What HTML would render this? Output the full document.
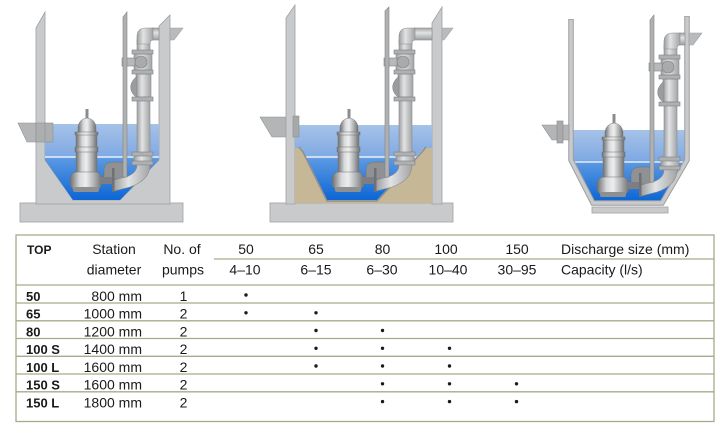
<!DOCTYPE html>
<html>
<head>
<meta charset="utf-8">
<style>
html,body{margin:0;padding:0;background:#fff;}
svg{display:block;}
text{font-family:"Liberation Sans",Arial,sans-serif;fill:#1a1a1a;}
.h{font-size:14px;}
.b{font-size:13px;font-weight:bold;}
</style>
</head>
<body>
<svg width="724" height="443" viewBox="0 0 724 443" xmlns="http://www.w3.org/2000/svg">
<defs>
  <linearGradient id="w" x1="0" y1="0" x2="0" y2="1">
    <stop offset="0" stop-color="#a6c2e8"/>
    <stop offset="0.42" stop-color="#80aae3"/>
    <stop offset="0.46" stop-color="#5a98e3"/>
    <stop offset="1" stop-color="#0c66d4"/>
  </linearGradient>
  <linearGradient id="m" x1="0" y1="0" x2="1" y2="0">
    <stop offset="0" stop-color="#6c6e70"/>
    <stop offset="0.3" stop-color="#d8d9da"/>
    <stop offset="0.5" stop-color="#eeeeee"/>
    <stop offset="0.78" stop-color="#a9abad"/>
    <stop offset="1" stop-color="#6e7072"/>
  </linearGradient>
  <linearGradient id="p" x1="0" y1="0" x2="1" y2="0">
    <stop offset="0" stop-color="#9c9ea0"/>
    <stop offset="0.4" stop-color="#e2e3e4"/>
    <stop offset="1" stop-color="#a2a4a6"/>
  </linearGradient>
  <linearGradient id="ph" x1="0" y1="0" x2="0" y2="1">
    <stop offset="0" stop-color="#a2a4a6"/>
    <stop offset="0.4" stop-color="#e2e3e4"/>
    <stop offset="1" stop-color="#9c9ea0"/>
  </linearGradient>
  <g id="asm">
    <!-- autocoupling hump -->
    <path d="M104,179 L104,169 Q105,162 113,162 L121,162 Q127,163 127,170 L127,179 Z" fill="#8f9194" stroke="#6f7173" stroke-width=".5"/>
    <!-- vertical discharge pipe -->
    <rect x="137" y="40" width="13" height="126" fill="url(#p)" stroke="#8a8c8e" stroke-width=".6"/>
    <path d="M137,44 L137,37 Q137,28 146,28 L153,28 L153,40 Q150,40 150,44 Z" fill="url(#p)" stroke="#8a8c8e" stroke-width=".6"/>
    <!-- gate valve -->
    <rect x="134" y="54" width="18" height="16" fill="url(#p)" stroke="#8a8c8e" stroke-width=".6"/>
    <circle cx="141" cy="62" r="6" fill="#a8aaac" stroke="#7f8183" stroke-width=".6"/>
    <rect x="122" y="58" width="13" height="8" fill="#b6b8ba" stroke="#7f8183" stroke-width=".6"/>
    <!-- check valve -->
    <rect x="136" y="74" width="15" height="23" fill="url(#p)" stroke="#8a8c8e" stroke-width=".6"/>
    <path d="M137,76 Q129,83 131,90 Q133,96 137,97 Z" fill="#9a9c9e" stroke="#7f8183" stroke-width=".5"/>
    <!-- lower fitting -->
    <rect x="134" y="155" width="18" height="7" fill="url(#p)" stroke="#8a8c8e" stroke-width=".6"/>
    <!-- flanges -->
    <rect x="132" y="50" width="21" height="4" fill="#aeb0b2" stroke="#7d7f82" stroke-width=".6"/>
    <rect x="132" y="70" width="21" height="4" fill="#aeb0b2" stroke="#7d7f82" stroke-width=".6"/>
    <rect x="132" y="97" width="21" height="4" fill="#aeb0b2" stroke="#7d7f82" stroke-width=".6"/>
    <rect x="132" y="152" width="21" height="4" fill="#aeb0b2" stroke="#7d7f82" stroke-width=".6"/>
    <rect x="132" y="161" width="21" height="4" fill="#aeb0b2" stroke="#7d7f82" stroke-width=".6"/>
    <!-- bend -->
    <path d="M137,165 L150,165 Q150,180 130,187 L114,191 L114,180 L126,177 Q137,173 137,165 Z" fill="url(#p)" stroke="#8a8c8e" stroke-width=".6"/>
    <!-- pump -->
    <rect x="85.5" y="109" width="3" height="12" fill="#8a8c8f"/>
    <path d="M78,134 L78,127 Q79,119 87,118 Q95,119 96,127 L96,134 Z" fill="url(#m)" stroke="#77797b" stroke-width=".5"/>
    <rect x="76" y="133" width="21" height="41" fill="url(#m)" stroke="#77797b" stroke-width=".5"/>
    <rect x="75" y="132" width="23" height="3" fill="url(#m)" stroke="#6f7173" stroke-width=".5"/>
    <rect x="75" y="147" width="23" height="5" fill="url(#m)" stroke="#6f7173" stroke-width=".5"/>
    <rect x="70" y="172" width="32" height="18" rx="7" fill="url(#m)" stroke="#6f7173" stroke-width=".5"/>
    <rect x="73" y="187" width="26" height="5" rx="2" fill="#8d8f91"/>
    <rect x="100" y="177" width="13" height="7" fill="#7c7e81"/>
    <rect x="112" y="168" width="2.5" height="24" fill="#6f7174"/>
  </g>
</defs>

<!-- ============ DIAGRAM 1 ============ -->
<rect x="20" y="203" width="163" height="19" fill="#c9cacc" stroke="#9fa0a3" stroke-width=".8"/>
<polygon points="18,123 36,123 36,142 27,142" fill="#b4b5b7" stroke="#8e8f91" stroke-width=".6"/>
<polygon points="36,28 45,12 45,160 73,200 120,200 159,160 159,26 170,15 170,204 36,204" fill="#c9cacc" stroke="#9fa0a3" stroke-width=".8"/>
<polygon points="45,124 159,124 159,160 120,200 73,200 45,160" fill="url(#w)"/>
<line x1="45" y1="157" x2="159" y2="157" stroke="#fff" stroke-width="1.2"/>
<rect x="36" y="123" width="17" height="19" fill="#adaeb0" stroke="#8e8f91" stroke-width=".6"/>
<line x1="45" y1="123" x2="45" y2="142" stroke="#8e8f91" stroke-width=".6"/>
<rect x="152" y="28" width="7" height="12" fill="url(#ph)" stroke="#8a8c8e" stroke-width=".6"/>
<polygon points="170,28 183,28 174,40 170,40" fill="#b9babc" stroke="#9fa0a3" stroke-width=".6"/>
<use href="#asm"/>
<polygon points="123,17 127,12 127,177 123,177" fill="#aeb0b2" stroke="#808284" stroke-width=".6"/>

<!-- ============ DIAGRAM 2 ============ -->
<rect x="270" y="203" width="183" height="19" fill="#c9cacc" stroke="#9fa0a3" stroke-width=".8"/>
<polygon points="260,117 286,117 286,137 272,137" fill="#b4b5b7" stroke="#8e8f91" stroke-width=".6"/>
<polygon points="286,18 295,5 295,204 286,204" fill="#c9cacc" stroke="#9fa0a3" stroke-width=".8"/>
<polygon points="432,23 442,7 442,204 432,204" fill="#c9cacc" stroke="#9fa0a3" stroke-width=".8"/>
<polygon points="295,148 301,148 327,200 377,200 424,148 432,148 432,203 295,203" fill="#c6b897"/>
<polygon points="295,125 432,125 432,148 424,148 377,200 327,200 301,148 295,148" fill="url(#w)"/>
<line x1="305" y1="157" x2="418" y2="157" stroke="#fff" stroke-width="1.2"/>
<polyline points="299,147 303,152 327,201 377,201 422,152 426,147" fill="none" stroke="#8e9092" stroke-width="1.6"/>
<rect x="293" y="116" width="6" height="21" fill="#a7a8aa" stroke="#8e8f91" stroke-width=".6"/>
<rect x="414" y="28" width="18" height="12" fill="url(#ph)" stroke="#8a8c8e" stroke-width=".6"/>
<polygon points="442,28 453,28 444,40 442,40" fill="#b9babc" stroke="#9fa0a3" stroke-width=".6"/>
<use href="#asm" transform="translate(262,0)"/>
<polygon points="385,11 389,7 389,177 385,177" fill="#aeb0b2" stroke="#808284" stroke-width=".6"/>

<!-- ============ DIAGRAM 3 ============ -->
<rect x="592" y="207" width="76" height="6" fill="#c9cacc" stroke="#9fa0a3" stroke-width=".8"/>
<polygon points="573,130 685,130 685,160 661,201 594,201 573,160" fill="url(#w)"/>
<line x1="574" y1="162" x2="684" y2="162" stroke="#fff" stroke-width="1.2"/>
<path d="M571,19 L571,160 L593,203 L662,203 L687,160 L687,16" fill="none" stroke="#9d9ea1" stroke-width="5.5" stroke-linejoin="miter"/>
<path d="M571,19.8 L571,160 L593,203 L662,203 L687,160 L687,16.8" fill="none" stroke="#c9cacc" stroke-width="3.5" stroke-linejoin="miter"/>
<polygon points="542,125 569,125 569,140 552,140" fill="#b4b5b7" stroke="#8e8f91" stroke-width=".6"/>
<rect x="557" y="121" width="6" height="22" fill="#a9aaac" stroke="#8a8b8d" stroke-width=".6"/>
<rect x="679" y="33" width="6" height="12" fill="url(#ph)" stroke="#8a8c8e" stroke-width=".6"/>
<polygon points="689,33 702,33 693,45 689,45" fill="#b9babc" stroke="#9fa0a3" stroke-width=".6"/>
<use href="#asm" transform="translate(527,5)"/>
<polygon points="650,20 654,15 654,182 650,182" fill="#aeb0b2" stroke="#808284" stroke-width=".6"/>

<!-- ============ TABLE ============ -->
<g stroke="#a9a98b" stroke-width="1.3" fill="none">
  <rect x="16" y="235" width="698" height="186.5"/>
  <line x1="214" y1="259" x2="714" y2="259"/>
  <line x1="16" y1="285" x2="714" y2="285"/>
  <line x1="16" y1="303" x2="714" y2="303"/>
  <line x1="16" y1="320.8" x2="714" y2="320.8"/>
  <line x1="16" y1="338.5" x2="714" y2="338.5"/>
  <line x1="16" y1="356.3" x2="714" y2="356.3"/>
  <line x1="16" y1="374" x2="714" y2="374"/>
  <line x1="16" y1="391.8" x2="714" y2="391.8"/>
</g>

<text x="27" y="254" style="font-size:12px;font-weight:bold">TOP</text>
<text class="h" x="114" y="254" text-anchor="middle">Station</text>
<text class="h" x="114" y="274.5" text-anchor="middle">diameter</text>
<text class="h" x="182" y="254" text-anchor="middle">No. of</text>
<text class="h" x="183" y="274.5" text-anchor="middle">pumps</text>
<text class="h" x="246" y="254" text-anchor="middle">50</text>
<text class="h" x="245" y="274.5" text-anchor="middle">4–10</text>
<text class="h" x="316" y="254" text-anchor="middle">65</text>
<text class="h" x="316" y="274.5" text-anchor="middle">6–15</text>
<text class="h" x="382.5" y="254" text-anchor="middle">80</text>
<text class="h" x="382" y="274.5" text-anchor="middle">6–30</text>
<text class="h" x="446" y="254" text-anchor="middle">100</text>
<text class="h" x="448" y="274.5" text-anchor="middle">10–40</text>
<text class="h" x="517" y="254" text-anchor="middle">150</text>
<text class="h" x="517" y="274.5" text-anchor="middle">30–95</text>
<text class="h" x="561" y="254">Discharge size (mm)</text>
<text class="h" x="561" y="274.5">Capacity (l/s)</text>

<text class="b" x="26" y="300.8">50</text>
<text class="b" x="26" y="318.5">65</text>
<text class="b" x="26" y="336.3">80</text>
<text class="b" x="26" y="354">100 S</text>
<text class="b" x="26" y="371.8">100 L</text>
<text class="b" x="26" y="389.5">150 S</text>
<text class="b" x="26" y="407.3">150 L</text>

<text class="h" x="142" y="300.8" text-anchor="end">800 mm</text>
<text class="h" x="142" y="318.5" text-anchor="end">1000 mm</text>
<text class="h" x="142" y="336.3" text-anchor="end">1200 mm</text>
<text class="h" x="142" y="354" text-anchor="end">1400 mm</text>
<text class="h" x="142" y="371.8" text-anchor="end">1600 mm</text>
<text class="h" x="142" y="389.5" text-anchor="end">1600 mm</text>
<text class="h" x="142" y="407.3" text-anchor="end">1800 mm</text>

<text class="h" x="183.5" y="300.8" text-anchor="middle">1</text>
<text class="h" x="183.5" y="318.5" text-anchor="middle">2</text>
<text class="h" x="183.5" y="336.3" text-anchor="middle">2</text>
<text class="h" x="183.5" y="354" text-anchor="middle">2</text>
<text class="h" x="183.5" y="371.8" text-anchor="middle">2</text>
<text class="h" x="183.5" y="389.5" text-anchor="middle">2</text>
<text class="h" x="183.5" y="407.3" text-anchor="middle">2</text>

<g fill="#1a1a1a">
  <circle cx="246" cy="295" r="1.7"/>
  <circle cx="246" cy="312.8" r="1.7"/>
  <circle cx="316" cy="312.8" r="1.7"/>
  <circle cx="316" cy="330.5" r="1.7"/>
  <circle cx="382.5" cy="330.5" r="1.7"/>
  <circle cx="316" cy="348.3" r="1.7"/>
  <circle cx="382.5" cy="348.3" r="1.7"/>
  <circle cx="449.5" cy="348.3" r="1.7"/>
  <circle cx="316" cy="366" r="1.7"/>
  <circle cx="382.5" cy="366" r="1.7"/>
  <circle cx="449.5" cy="366" r="1.7"/>
  <circle cx="382.5" cy="383.8" r="1.7"/>
  <circle cx="449.5" cy="383.8" r="1.7"/>
  <circle cx="516.5" cy="383.8" r="1.7"/>
  <circle cx="382.5" cy="401.6" r="1.7"/>
  <circle cx="449.5" cy="401.6" r="1.7"/>
  <circle cx="516.5" cy="401.6" r="1.7"/>
</g>
</svg>
</body>
</html>
